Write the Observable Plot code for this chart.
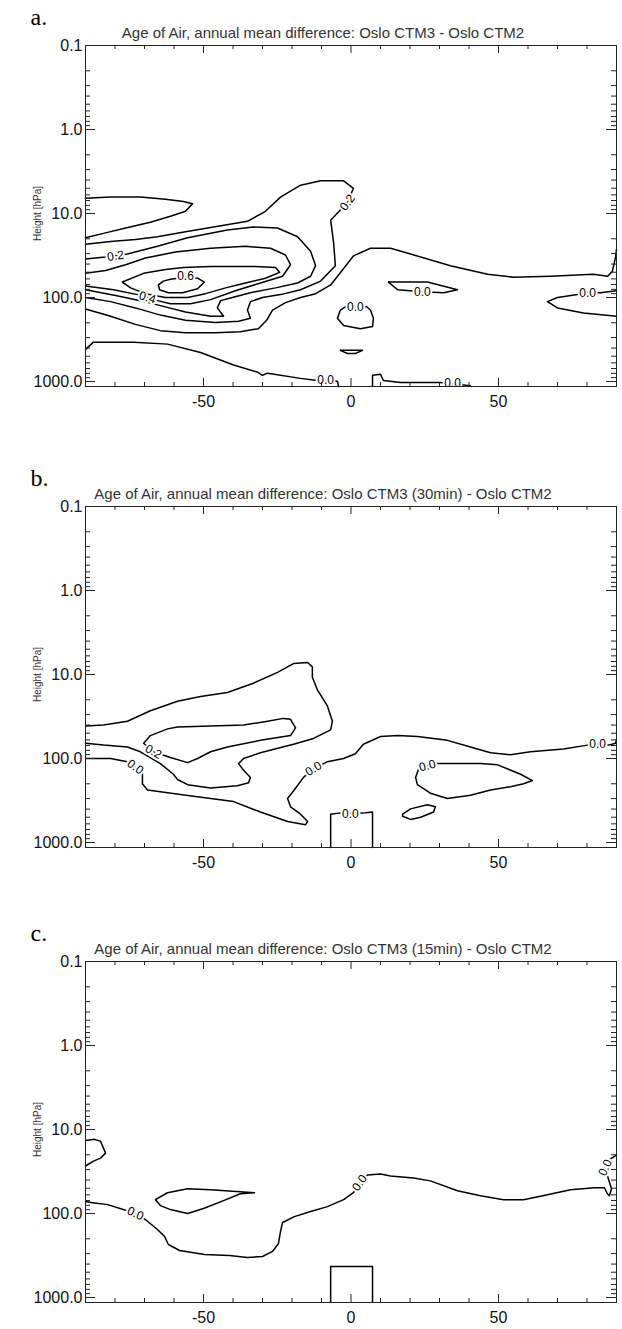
<!DOCTYPE html>
<html><head><meta charset="utf-8">
<script src="https://cdn.jsdelivr.net/npm/d3@7"></script>
<script src="https://cdn.jsdelivr.net/npm/@observablehq/plot@0.6"></script>
<style>
body{margin:0;background:#fff;}
#chart svg{display:block;}
</style></head><body><div id="chart"></div>
<script>
// ---------- axis values ----------
const yMajor = [0.1, 1, 10, 100, 1000];
const yMinor = [0.2,0.3,0.4,0.5,0.6,0.7,0.8,0.9,2,3,4,5,6,7,8,9,20,30,40,50,60,70,80,90,200,300,400,500,600,700,800,900];
const xMajor = [-50, 0, 50];
const xMinor = [-80,-70,-60,-40,-30,-20,-10,10,20,30,40,60,70,80];

// ---------- panel a: contour lines [lat, hPa] ----------
const a_lobe = [[-90,6.58],[-81.5,6.38],[-71.4,6.38],[-62.9,6.78],[-56.8,7.20],[-53.7,7.64],[-56.1,9.42],[-61.2,10.8],[-68,12.7],[-76.4,14.9],[-83.2,17.0],[-90,19.4]];
const a_hump = [[-90,23.3],[-81.5,21.6],[-73.1,20.4],[-65.6,18.9],[-56.1,16.5],[-46.6,14.5],[-35.1,12.4],[-29,9.42],[-23.9,6.38],[-17.1,4.60],[-10.3,4.08],[-2.5,4.08],[0.8,5.03],[-1.2,7.41],[-6.9,12.0],[-5.9,22.1],[-5.3,41.8],[-10.3,63.8],[-17.1,80.9],[-23.9,92.4],[-30,100],[-34.1,112],[-35.1,141],[-34.1,177],[-38.1,192],[-45.9,198],[-56.1,187],[-64.6,162],[-73.1,133],[-81.5,112],[-90,100]];
const a_c02 = [[-90,34.7],[-83.2,32.9],[-75.8,30.4],[-65.6,24.6],[-55.4,19.4],[-41.9,15.7],[-33.1,14.5],[-24.9,14.9],[-18.1,18.9],[-13.7,28.1],[-12,41.8],[-13.7,55.8],[-18.1,67.2],[-25.6,76.8],[-34.1,87.6],[-40.2,100],[-44.2,109],[-45.3,133],[-43.2,167],[-47.6,167],[-56.1,149],[-64.6,125],[-71.4,109],[-79.8,94.8],[-90,80.9]];
const a_c04 = [[-90,51.6],[-83.2,47.6],[-76.4,40.7],[-69.7,33.8],[-59.5,28.8],[-47.6,25.9],[-35.8,24.6],[-27.3,25.9],[-22.2,31.2],[-20.5,40.7],[-23.2,55.8],[-30.7,67.2],[-39.2,83.1],[-47.6,106],[-54.4,119],[-61.2,119],[-65.6,109],[-69,100],[-72.4,92.4],[-80.5,80.9],[-90,72.8]];
const a_c05 = [[-77.5,65.5],[-70.3,51.6],[-62.9,46.4],[-56.8,44.0],[-47.6,42.9],[-39.8,42.9],[-32.4,42.9],[-25.6,44.0],[-24.2,50.2],[-29,58.9],[-35.8,67.2],[-42.5,76.8],[-49.3,90.0],[-55.4,100],[-62.9,100],[-69.7,90.0],[-74.7,76.8],[-77.5,65.5]];
const a_c06 = [[-65.3,70.9],[-63.6,63.8],[-61.2,60.5],[-56.1,57.4],[-52,58.9],[-49.7,65.5],[-52,78.8],[-57.1,87.6],[-61.9,87.6],[-64.9,80.9],[-65.3,70.9]];
const a_long = [[90,26.6],[89.7,32.9],[88.6,48.9],[87,55.8],[82.2,53.0],[67.6,55.8],[55.1,57.4],[46.3,53.0],[33.7,41.8],[20.2,30.4],[13.4,25.9],[6.6,25.9],[0.8,32.0],[-2.5,45.2],[-6.9,70.9],[-12,90.0],[-17.1,100],[-22.2,115],[-26.6,141],[-28.6,187],[-31.4,235],[-37.5,256],[-45.9,263],[-56.1,263],[-64.6,248],[-73.1,209],[-81.5,167],[-90,137]];
const a_bottom = [[-90,414],[-87.3,340],[-73.7,340],[-62.2,359],[-51,451],[-39.8,635],[-31.7,774],[-30,843],[-28.3,796],[-17.1,918],[-11.4,973],[-5.9,973],[-4.6,1000],[-4.2,1147]];
const a_step = [[7.3,1147],[7.3,843],[10,820],[11,973],[16.8,1029],[30.3,1029],[40.5,1120]];
const a_loopC = [[-1.9,129],[-3.6,141],[-4.6,177],[-2.5,215],[3.2,235],[7.3,222],[7.6,177],[6.6,141],[5.3,129],[-1.9,129]];
const a_loopR = [[12.7,65.5],[25.9,65.5],[36.1,80.9],[31.4,87.6],[24.2,85.3],[15.8,80.9],[12.7,65.5]];
const a_tri = [[-3.6,426],[3.9,426],[1.5,464],[-1.2,464],[-3.6,426]];
const a_right = [[90,83.1],[84.6,87.6],[80.2,87.6],[76.8,92.4],[70,100],[66.6,112],[70,133],[78.8,153],[90,167]];
const a_labels = [[-79.8,32.0,"0.2"],[-56.1,55.8,"0.6"],[-69,100,"0.4"],[-1.2,7.41,"0.2"],[-8.6,973,"0.0"],[34.4,1058,"0.0"],[24.2,85.3,"0.0"],[1.5,129,"0.0"],[80.2,87.6,"0.0"]];
const a_labelAngles = [-8, 0, 17, -53, 0, 0, 0, 0, 0];

// ---------- panel b ----------
const b_outer = [[-90,41.1],[-83.9,40.0],[-75.8,36.0],[-68,27.0],[-58.8,20.8],[-51,18.3],[-41.9,16.4],[-33.1,12.7],[-24.9,9.42],[-19.5,7.41],[-14.7,7.20],[-13.1,8.11],[-13.1,10.8],[-11.4,15.2],[-8,23.7],[-6.3,36.0],[-6.9,45.6],[-12.7,57.7],[-19.5,67.6],[-30.7,85.5],[-36.4,100],[-38.1,115],[-36.8,133],[-34.1,168],[-34.7,194],[-38.5,211],[-47.6,224],[-55.4,205],[-58.8,178],[-60.2,154],[-64.6,115],[-71.4,83.2],[-75.8,73.1],[-83.9,69.3],[-90,65.8]];
const b_inner = [[-70.3,65.8],[-68,53.4],[-62.2,44.4],[-58.8,42.2],[-47.6,41.1],[-36.4,40.0],[-28.3,36.0],[-22.9,33.3],[-20.5,34.2],[-18.8,43.3],[-20.5,53.4],[-30.7,60.8],[-41.9,73.1],[-47.6,83.2],[-52,100],[-55.4,112],[-61.2,97.4],[-67,83.2],[-70.3,65.8]];
const b_zero = [[-90,100],[-81.5,100],[-75.8,109],[-73.1,126],[-70.7,150],[-70.7,200],[-69,237],[-53.4,282],[-39.8,326],[-30.7,434],[-21.5,562],[-15.4,613],[-14.7,562],[-17.1,460],[-20.5,376],[-21.5,299],[-19.5,244],[-16.1,168],[-12.7,133],[-8,109],[-2.5,100],[1.5,87.7],[4.2,67.6],[10,54.8],[15.8,53.4],[22.5,54.8],[32.7,60.8],[40.5,73.1],[47.3,85.5],[54.1,90.1],[60.8,83.2],[72,76.9],[80.2,69.3],[83.6,67.6],[87.3,69.3],[89.7,65.8],[90,59.3]];
const b_loop2 = [[22.9,133],[21.9,168],[22.5,205],[26.9,259],[32.7,299],[40.5,274],[47.3,237],[54.1,217],[58.5,200],[61.5,183],[57.5,154],[49.7,119],[43.9,115],[29.3,115],[25.9,122],[22.9,133]];
const b_loop3 = [[17.5,460],[20.2,398],[25.9,355],[28.6,376],[28,434],[23.6,501],[20.2,531],[17.5,487],[17.5,460]];
const b_box = [[-6.9,1147],[-6.9,460],[-4.2,447],[3.9,447],[7.3,434],[7.3,1147]];
const b_labels = [[-67,83.2,"0.2"],[-73.1,126,"0.0"],[-12.7,133,"0.0"],[25.9,122,"0.0"],[83.6,67.6,"0.0"],[-0.2,460,"0.0"]];
const b_labelAngles = [29, 36, -32, -15, 0, 0];

// ---------- panel c ----------
const c_lobe = [[-90,13.5],[-87,13.1],[-84.9,13.8],[-83.2,19.1],[-84.9,21.9],[-87.3,23.8],[-90,27.2]];
const c_main = [[-90,72.2],[-87.6,74.3],[-82.5,78.4],[-76.1,92.2],[-73.1,100],[-69.7,118],[-65.6,155],[-63.2,188],[-61.9,234],[-58.1,276],[-49.7,307],[-41.2,316],[-35.1,334],[-30,325],[-26.6,283],[-24.6,228],[-23.9,164],[-23.2,128],[-19.2,109],[-13.7,94.6],[-8,82.8],[-2.5,68.4],[0.8,56.6],[2.9,43.2],[5.6,34.8],[10,33.8],[13.4,35.7],[21.2,37.7],[26.9,40.9],[36.1,53.6],[43.9,61.4],[51.7,68.4],[58.5,68.4],[66.6,59.7],[74.4,52.2],[82.5,49.4],[85.9,49.4],[86.9,58.2],[87.6,61.4],[88.3,50.8],[86.9,35.2],[85.9,28.4],[87.6,22.9],[90,20.2]];
const c_loop = [[-66.3,68.4],[-62.2,56.6],[-55.4,50.8],[-47.6,52.2],[-37.5,55.1],[-32.7,56.6],[-37.5,58.2],[-43.2,70.3],[-50,87.3],[-55.4,100],[-61.2,89.8],[-64.6,80.5],[-66.3,68.4]];
const c_box = [[-6.9,1147],[-6.9,428],[7.3,428],[7.3,1147]];
const c_labels = [[-73.1,100,"0.0"],[2.9,43.2,"0.0"],[86.2,28.4,"0.0"]];
const c_labelAngles = [25, -55, -65];

const titles = [
  "Age of Air, annual mean difference: Oslo CTM3 - Oslo CTM2",
  "Age of Air, annual mean difference: Oslo CTM3 (30min) - Oslo CTM2",
  "Age of Air, annual mean difference: Oslo CTM3 (15min) - Oslo CTM2"
];
const letters = ["a.", "b.", "c."];

// ---------- layout (page pixels) ----------
const panels = [
  {pageTop: 0,   height: 440, yTop: 45,  yBottom: 386,
   lines: [a_lobe,a_hump,a_c02,a_c04,a_c05,a_c06,a_long,a_bottom,a_step,a_loopC,a_loopR,a_tri,a_right],
   labels: a_labels, angles: a_labelAngles},
  {pageTop: 440, height: 470, yTop: 506, yBottom: 847,
   lines: [b_outer,b_inner,b_zero,b_loop2,b_loop3,b_box],
   labels: b_labels, angles: b_labelAngles},
  {pageTop: 910, height: 419, yTop: 961, yBottom: 1302,
   lines: [c_lobe,c_main,c_loop,c_box],
   labels: c_labels, angles: c_labelAngles}
];
const pBottom = 1147;

const SANS = "'Liberation Sans', Arial, Helvetica, sans-serif";
const SERIF = "'Liberation Serif', 'DejaVu Serif', serif";
const X0 = 85, X1 = 616, W = 622;
const AX = "#222";

panels.forEach((cfg, k) => {
  const top = cfg.yTop - cfg.pageTop, bottom = cfg.yBottom - cfg.pageTop;
  const frameH = bottom - top, frameW = X1 - X0;
  const rows = [];
  cfg.lines.forEach((line, i) => line.forEach(([lat, p]) => rows.push({id: i, lat, p})));
  const labs = cfg.labels.map(([lat, p, t], i) => ({lat, p, t, a: cfg.angles[i]}));
  const chart = Plot.plot({
    width: W, height: cfg.height,
    marginLeft: X0, marginRight: W - X1, marginTop: top, marginBottom: cfg.height - bottom,
    x: {type: "linear", domain: [-90, 90], axis: null},
    y: {type: "log", domain: [0.1, pBottom], range: [top, bottom], axis: null},
    style: {fontFamily: SANS, background: "white", overflow: "visible"},
    marks: [
      Plot.line(rows, {x: "lat", y: "p", z: "id", stroke: "#000", strokeWidth: 1.5, strokeLinejoin: "round"}),
      Plot.text(labs, {x: "lat", y: "p", text: "t", rotate: "a", fontSize: 12, fill: "#000",
        stroke: "white", strokeWidth: 4, paintOrder: "stroke", fontFamily: SANS}),
      Plot.tickY(yMinor, {y: d => d, insetRight: frameW - 5, stroke: AX}),
      Plot.tickY(yMinor, {y: d => d, insetLeft: frameW - 5, stroke: AX}),
      Plot.tickY(yMajor, {y: d => d, insetRight: frameW - 10, stroke: AX}),
      Plot.tickY(yMajor, {y: d => d, insetLeft: frameW - 10, stroke: AX}),
      Plot.tickX(xMinor, {x: d => d, insetTop: frameH - 4, stroke: AX}),
      Plot.tickX(xMinor, {x: d => d, insetBottom: frameH - 4, stroke: AX}),
      Plot.tickX(xMajor, {x: d => d, insetTop: frameH - 8, stroke: AX}),
      Plot.tickX(xMajor, {x: d => d, insetBottom: frameH - 8, stroke: AX}),
      Plot.frame({stroke: AX}),
      Plot.axisY({ticks: yMajor, tickFormat: d => d.toFixed(1), tickSize: 0, tickPadding: 3,
        fontSize: 16, label: null, fill: "#111"}),
      Plot.axisX({ticks: xMajor, tickFormat: d => String(d), tickSize: 0, tickPadding: 9,
        fontSize: 16, label: null, fill: "#111"}),
      Plot.text(["Height [hPa]"], {x: () => -90, y: () => 10, text: d => d, rotate: -90, dx: -48,
        fontSize: 10, fill: "#333"}),
      Plot.text([titles[k]], {frameAnchor: "top", text: d => d, dx: -28, dy: -18, fontSize: 15, fill: "#333"}),
      Plot.text([letters[k]], {frameAnchor: "top-left", text: d => d, dx: -55, dy: -21, lineAnchor: "bottom",
        textAnchor: "start", fontSize: 24, fontFamily: SERIF, fill: "#000"})
    ]
  });
  document.getElementById("chart").appendChild(chart);
});
</script></body></html>
